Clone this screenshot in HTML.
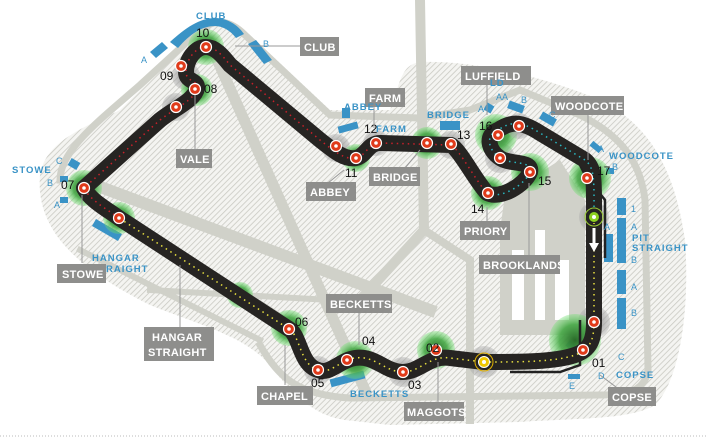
<!DOCTYPE html>
<html><head><meta charset="utf-8"><style>
html,body{margin:0;padding:0;background:#fff;width:708px;height:438px;overflow:hidden}
svg{display:block}
.lb{fill:#fff;font:bold 11px "Liberation Sans",sans-serif;letter-spacing:.3px;text-transform:uppercase}
.bt{fill:#3a93c6;font:bold 9.5px "Liberation Sans",sans-serif;letter-spacing:1px}
.sm{fill:#3a93c6;font:9px "Liberation Sans",sans-serif}
.num{fill:#111;font:12px "Liberation Sans",sans-serif}
</style></head><body>
<svg width="708" height="438" viewBox="0 0 708 438" xmlns="http://www.w3.org/2000/svg">
<defs>
<pattern id="h" width="4" height="4" patternUnits="userSpaceOnUse" patternTransform="rotate(45)">
<rect width="4" height="4" fill="#f4f4f1"/><line x1="0" y1="0" x2="0" y2="4" stroke="#c9c9c2" stroke-width="1.6"/></pattern>
<radialGradient id="g"><stop offset="0" stop-color="#2a6b2a"/><stop offset=".6" stop-color="#45a845" stop-opacity=".9"/><stop offset="1" stop-color="#6fe06f" stop-opacity=".35"/></radialGradient>
<radialGradient id="gr"><stop offset="0" stop-color="#888"/><stop offset="1" stop-color="#aaa" stop-opacity=".4"/></radialGradient>
</defs>
<rect width="708" height="438" fill="#fff"/>
<line x1="0" y1="436" x2="708" y2="436" stroke="#bbb" stroke-dasharray="1 2"/>
<path d="M40,175 C45,140 90,125 120,110 L190,40 C205,22 235,20 250,35 L330,110 L390,110 C400,85 400,65 420,62 C470,60 540,75 600,100 C650,125 675,170 685,240 C690,310 680,380 655,405 C630,420 580,418 520,422 L390,425 L345,420 C310,415 290,390 265,360 C240,335 200,325 150,305 C110,285 80,265 60,240 C45,220 38,200 40,175 Z" fill="url(#h)"/>
<path d="M505,195 L560,160 L585,200 L585,335 L500,335 L500,230 Z" fill="#d0d1c9"/>
<g stroke="#d0d1c9" fill="none" stroke-linecap="square">
<path d="M60,180 C60,150 100,120 140,85 L200,30 C215,18 230,20 245,35 L330,115 L420,118 L470,110 L520,90 L580,115 C620,135 640,160 645,200 L648,370 C645,390 630,395 600,395 L350,398 C300,395 280,380 260,345" stroke-width="7"/>
<path d="M215,55 L365,390" stroke-width="11"/>
<path d="M95,185 L430,310" stroke-width="12"/>
<path d="M95,200 L300,330" stroke-width="8"/>
<path d="M420,0 L424,230 L360,300" stroke-width="10"/>
<path d="M424,230 L470,260 L470,420" stroke-width="8"/>
<path d="M150,290 L330,300" stroke-width="6"/>
<path d="M80,250 L260,340" stroke-width="6"/>
</g>
<g fill="#fff"><rect x="512" y="250" width="12" height="70"/><rect x="535" y="230" width="10" height="90"/><rect x="555" y="260" width="14" height="60"/></g>
<g fill="#3a93c6">
<path d="M150,52 L162,42 L168,48 L156,58Z"/>
<path d="M170,42 C185,28 200,18 215,18 C230,18 240,28 244,34 L236,38 C230,30 222,26 215,26 C202,26 190,34 178,48Z"/>
<path d="M248,44 L256,40 L272,60 L264,64Z"/>
<rect x="338" y="124" width="20" height="7" transform="rotate(-15 348 127)"/>
<rect x="342" y="108" width="8" height="10"/>
<rect x="440" y="121" width="20" height="9"/>
<rect x="485" y="104" width="8" height="8" transform="rotate(30 489 108)"/>
<rect x="508" y="103" width="16" height="8" transform="rotate(20 516 107)"/>
<rect x="540" y="115" width="16" height="8" transform="rotate(30 548 119)"/>
<rect x="590" y="144" width="12" height="6" transform="rotate(40 596 147)"/>
<rect x="606" y="168" width="8" height="6"/>
<rect x="617" y="198" width="9" height="17"/>
<rect x="617" y="218" width="9" height="45"/>
<rect x="604" y="234" width="9" height="28"/>
<rect x="617" y="270" width="9" height="24"/>
<rect x="617" y="298" width="9" height="31"/>
<rect x="69" y="160" width="10" height="8" transform="rotate(30 74 164)"/>
<rect x="60" y="176" width="8" height="6"/>
<rect x="60" y="197" width="8" height="6"/>
<rect x="92" y="226" width="30" height="8" transform="rotate(30 107 230)"/>
<rect x="330" y="375" width="35" height="8" transform="rotate(-15 347 379)"/>
<rect x="567" y="342" width="8" height="7" transform="rotate(40 571 345)"/>
<rect x="568" y="374" width="12" height="5"/>
</g>
<g>
<circle cx="206" cy="47" r="18" fill="url(#g)"/><circle cx="186" cy="76" r="14" fill="url(#gr)"/>
<circle cx="197" cy="90" r="16" fill="url(#g)"/><circle cx="176" cy="107" r="14" fill="url(#gr)"/>
<circle cx="84" cy="188" r="18" fill="url(#g)"/><circle cx="119" cy="218" r="16" fill="url(#g)"/>
<circle cx="336" cy="148" r="14" fill="url(#gr)"/><circle cx="356" cy="158" r="14" fill="url(#g)"/>
<circle cx="376" cy="143" r="13" fill="url(#gr)"/><circle cx="427" cy="143" r="16" fill="url(#g)"/>
<circle cx="451" cy="145" r="14" fill="url(#gr)"/><circle cx="488" cy="193" r="17" fill="url(#g)"/>
<circle cx="530" cy="172" r="19" fill="url(#g)"/><circle cx="500" cy="158" r="15" fill="url(#gr)"/>
<circle cx="496" cy="135" r="21" fill="url(#g)"/><circle cx="519" cy="126" r="13" fill="url(#gr)"/>
<circle cx="590" cy="178" r="21" fill="url(#g)"/><circle cx="594" cy="217" r="15" fill="url(#gr)"/>
<circle cx="594" cy="322" r="16" fill="url(#gr)"/><circle cx="575" cy="340" r="26" fill="url(#g)"/>
<circle cx="484" cy="362" r="16" fill="url(#gr)"/><circle cx="436" cy="350" r="19" fill="url(#g)"/>
<circle cx="403" cy="372" r="15" fill="url(#gr)"/><circle cx="355" cy="360" r="19" fill="url(#g)"/>
<circle cx="318" cy="370" r="14" fill="url(#gr)"/><circle cx="289" cy="328" r="18" fill="url(#g)"/>
<circle cx="240" cy="295" r="13" fill="url(#g)"/>
</g>
<path d="M605,258 L605,200 L585,175 L575,155 L568,145" stroke="#222" stroke-width="2.5" fill="none"/>
<path d="M580,355 L580,320 L580,365 L560,372 L510,372" stroke="#222" stroke-width="2.5" fill="none"/>
<path d="M594,217 L594,322 C594,340 590,350 575,355 C555,362 520,362 484,362 L450,358 C430,355 420,372 403,372 C385,372 375,355 355,358 C340,360 330,375 318,370 C300,365 300,335 289,329 L119,218 C105,208 90,200 84,188 L160,120 C175,108 195,100 197,88 C198,80 186,82 186,72 C186,60 195,47 206,47 C215,47 222,55 230,65 L320,140 C335,152 345,160 356,158 C366,156 368,143 380,143 L451,145 C460,150 475,180 487,193 C500,200 525,185 530,172 C533,160 510,165 500,158 C488,150 485,135 498,130 C510,122 520,120 540,133 L585,160 C595,168 594,180 594,217 Z" stroke="#262422" stroke-width="16" fill="none" stroke-linejoin="round"/>
<path d="M594,217 L594,322 C594,340 590,350 575,355 C555,362 520,362 484,362 L450,358 C430,355 420,372 403,372 C385,372 375,355 355,358 C340,360 330,375 318,370 C300,365 300,335 289,329 L119,218" stroke="#e8e040" stroke-width="1.5" stroke-dasharray="1.5 4" fill="none"/>
<path d="M119,218 C105,208 90,200 84,188 L160,120 C175,108 195,100 197,88 C198,80 186,82 186,72 C186,60 195,47 206,47 C215,47 222,55 230,65 L320,140 C335,152 345,160 356,158 C366,156 368,143 380,143 L451,145 C460,150 475,180 487,193" stroke="#c8202a" stroke-width="1.5" stroke-dasharray="1.5 4" fill="none"/>
<path d="M487,193 C500,200 525,185 530,172 C533,160 510,165 500,158 C488,150 485,135 498,130 C510,122 520,120 540,133 L585,160 C595,168 594,180 594,217" stroke="#2ab6c0" stroke-width="1.5" stroke-dasharray="1.5 4" fill="none"/>
<path d="M594,228 L594,245" stroke="#fff" stroke-width="3"/><path d="M589,243 L599,243 L594,252Z" fill="#fff"/>
<g fill="#e03a1a" stroke="#fff" stroke-width="1.2">
<circle cx="206" cy="47" r="5.5"/><circle cx="181" cy="66" r="5.5"/><circle cx="195" cy="89" r="5.5"/><circle cx="176" cy="107" r="5.5"/>
<circle cx="84" cy="188" r="5.5"/><circle cx="119" cy="218" r="5.5"/><circle cx="336" cy="146" r="5.5"/><circle cx="356" cy="158" r="5.5"/>
<circle cx="376" cy="143" r="5.5"/><circle cx="427" cy="143" r="5.5"/><circle cx="451" cy="144" r="5.5"/><circle cx="488" cy="193" r="5.5"/>
<circle cx="530" cy="172" r="5.5"/><circle cx="500" cy="158" r="5.5"/><circle cx="498" cy="135" r="5.5"/><circle cx="519" cy="126" r="5.5"/>
<circle cx="587" cy="178" r="5.5"/><circle cx="594" cy="322" r="5.5"/><circle cx="583" cy="350" r="5.5"/><circle cx="436" cy="350" r="5.5"/>
<circle cx="403" cy="372" r="5.5"/><circle cx="347" cy="360" r="5.5"/><circle cx="318" cy="370" r="5.5"/><circle cx="289" cy="329" r="5.5"/>
</g>
<g fill="#fff"><circle cx="206" cy="47" r="1.8"/><circle cx="181" cy="66" r="1.8"/><circle cx="195" cy="89" r="1.8"/><circle cx="176" cy="107" r="1.8"/><circle cx="84" cy="188" r="1.8"/><circle cx="119" cy="218" r="1.8"/><circle cx="336" cy="146" r="1.8"/><circle cx="356" cy="158" r="1.8"/><circle cx="376" cy="143" r="1.8"/><circle cx="427" cy="143" r="1.8"/><circle cx="451" cy="144" r="1.8"/><circle cx="488" cy="193" r="1.8"/><circle cx="530" cy="172" r="1.8"/><circle cx="500" cy="158" r="1.8"/><circle cx="498" cy="135" r="1.8"/><circle cx="519" cy="126" r="1.8"/><circle cx="587" cy="178" r="1.8"/><circle cx="594" cy="322" r="1.8"/><circle cx="583" cy="350" r="1.8"/><circle cx="436" cy="350" r="1.8"/><circle cx="403" cy="372" r="1.8"/><circle cx="347" cy="360" r="1.8"/><circle cx="318" cy="370" r="1.8"/><circle cx="289" cy="329" r="1.8"/></g>
<circle cx="594" cy="217" r="9" fill="none" stroke="#9c3" stroke-width="1"/><circle cx="594" cy="217" r="5.5" fill="#8cd020" stroke="#222"/><circle cx="594" cy="217" r="2" fill="#fff"/>
<circle cx="484" cy="362" r="9" fill="none" stroke="#e0b000" stroke-width="1"/><circle cx="484" cy="362" r="5.5" fill="#f0c800" stroke="#fff"/><circle cx="484" cy="362" r="2" fill="#fff"/>
<g class="num">
<text x="196" y="37">10</text><text x="160" y="80">09</text><text x="204" y="93">08</text><text x="61" y="189">07</text>
<text x="345" y="177">11</text><text x="364" y="133">12</text><text x="457" y="139">13</text><text x="471" y="213">14</text>
<text x="538" y="185">15</text><text x="479" y="130">16</text><text x="597" y="175">17</text><text x="592" y="367">01</text>
<text x="426" y="352">02</text><text x="408" y="389">03</text><text x="362" y="345">04</text><text x="311" y="387">05</text><text x="295" y="326">06</text>
</g>
<g stroke="#999" stroke-width="1" fill="none">
<line x1="235" y1="46" x2="300" y2="46"/><line x1="195" y1="95" x2="195" y2="152"/><line x1="82" y1="195" x2="82" y2="263"/>
<line x1="180" y1="265" x2="180" y2="327"/><line x1="344" y1="170" x2="328" y2="183"/><line x1="374" y1="100" x2="374" y2="128"/>
<line x1="420" y1="150" x2="405" y2="168"/><line x1="487" y1="85" x2="487" y2="115"/><line x1="588" y1="112" x2="588" y2="160"/>
<line x1="487" y1="207" x2="487" y2="222"/><line x1="529" y1="183" x2="529" y2="255"/><line x1="359" y1="310" x2="359" y2="345"/>
<line x1="438" y1="362" x2="438" y2="403"/><line x1="285" y1="345" x2="285" y2="385"/><line x1="600" y1="375" x2="620" y2="390"/>
</g>
<g fill="#8e8e8c">
<rect x="300" y="37" width="39" height="19"/><rect x="176" y="149" width="36" height="19"/><rect x="57" y="264" width="49" height="19"/>
<rect x="144" y="327" width="70" height="34"/><rect x="306" y="182" width="50" height="19"/><rect x="365" y="88" width="40" height="19"/>
<rect x="369" y="167" width="51" height="19"/><rect x="461" y="66" width="70" height="19"/><rect x="551" y="96" width="73" height="19"/>
<rect x="460" y="221" width="50" height="19"/><rect x="479" y="255" width="81" height="19"/><rect x="326" y="294" width="66" height="19"/>
<rect x="404" y="402" width="60" height="19"/><rect x="257" y="386" width="56" height="19"/><rect x="608" y="387" width="48" height="19"/>
</g>
<g class="lb">
<text x="304" y="51">CLUB</text><text x="180" y="163">VALE</text><text x="62" y="278">STOWE</text>
<text x="152" y="341">HANGAR</text><text x="148" y="356">STRAIGHT</text><text x="310" y="196">ABBEY</text><text x="369" y="102">FARM</text>
<text x="373" y="181">BRIDGE</text><text x="465" y="80">LUFFIELD</text><text x="555" y="110">WOODCOTE</text>
<text x="464" y="235">PRIORY</text><text x="483" y="269">BROOKLANDS</text><text x="330" y="308">BECKETTS</text>
<text x="407" y="416">MAGGOTS</text><text x="261" y="400">CHAPEL</text><text x="612" y="401">COPSE</text>
</g>
<g class="bt">
<text x="196" y="19">CLUB</text><text x="12" y="173">STOWE</text><text x="92" y="261">HANGAR</text><text x="106" y="272">RAIGHT</text>
<text x="344" y="110">ABBEY</text><text x="376" y="132">FARM</text><text x="427" y="118">BRIDGE</text><text x="490" y="86">LD</text>
<text x="609" y="159">WOODCOTE</text><text x="632" y="241">PIT</text><text x="632" y="251">STRAIGHT</text>
<text x="350" y="397">BECKETTS</text><text x="616" y="378">COPSE</text>
</g>
<g class="sm">
<text x="141" y="63">A</text><text x="263" y="47">B</text><text x="56" y="164">C</text><text x="47" y="186">B</text><text x="54" y="208">A</text>
<text x="478" y="112">A</text><text x="496" y="100">AA</text><text x="521" y="103">B</text><text x="549" y="118">C</text>
<text x="598" y="152">A</text><text x="612" y="170">B</text><text x="631" y="212">1</text><text x="631" y="230">A</text><text x="604" y="230">A</text>
<text x="631" y="263">B</text><text x="631" y="290">A</text><text x="631" y="316">B</text><text x="618" y="360">C</text><text x="598" y="379">D</text><text x="569" y="389">E</text>
</g>
</svg>
</body></html>
